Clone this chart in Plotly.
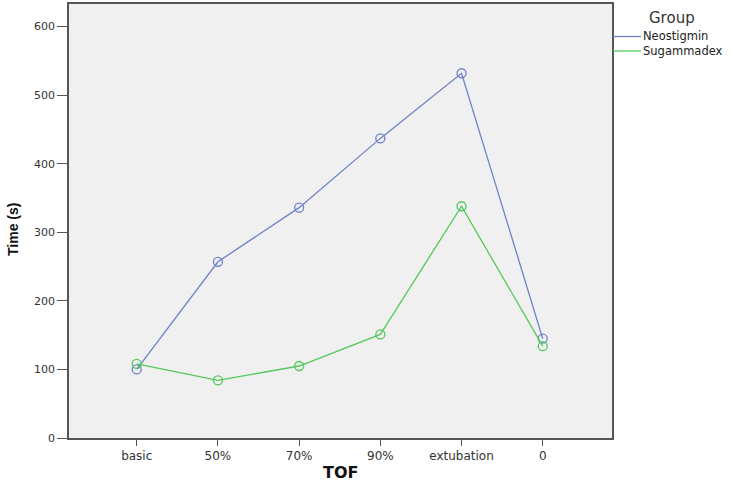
import plotly.graph_objects as go

categories = ["basic", "50%", "70%", "90%", "extubation", "0"]
neostigmin = [100, 257, 336, 437, 532, 145]
sugammadex = [108, 84, 105, 151, 338, 134]
y_ticks = [0, 100, 200, 300, 400, 500, 600]
series_names = ["Neostigmin", "Sugammadex"]
series_colors = ["#6e80c8", "#52c95a"]

x_idx = list(range(len(categories)))
FONT = "DejaVu Sans, Verdana, sans-serif"

# plot-area geometry (pixels)
W, H = 733, 486
L, R, T, B = 69, 121, 4, 48
pw, ph = W - L - R, H - T - B


def px(x):
    return (x - L) / pw


def py(y):
    return (H - B - y) / ph


fig = go.Figure()
for name, vals, col in zip(series_names, [neostigmin, sugammadex], series_colors):
    fig.add_trace(go.Scatter(
        x=x_idx, y=vals, name=name, mode="lines+markers",
        line=dict(color=col, width=1.3),
        marker=dict(symbol="circle-open", size=9, color=col, line=dict(width=1.3)),
        showlegend=False,
    ))

shapes = []
annotations = []
# manual legend
leg_y = [36.5, 51]
for name, col, yy in zip(series_names, series_colors, leg_y):
    shapes.append(dict(type="line", xref="paper", yref="paper",
                       x0=px(613), x1=px(641), y0=py(yy), y1=py(yy),
                       line=dict(color=col, width=1.3)))
    annotations.append(dict(text=name, xref="paper", yref="paper",
                            x=px(642), y=py(yy), xanchor="left", yanchor="middle",
                            showarrow=False, borderpad=0,
                            font=dict(family=FONT, size=11.5, color="#222")))
annotations.append(dict(text="Group", xref="paper", yref="paper",
                        x=px(672), y=py(18), xanchor="center", yanchor="middle",
                        showarrow=False, borderpad=0,
                        font=dict(family=FONT, size=15, color="#333")))
# axis titles
annotations.append(dict(text="<b>Time (s)</b>", xref="paper", yref="paper",
                        x=px(13), y=py(230), xanchor="center", yanchor="middle",
                        textangle=-90, showarrow=False,
                        font=dict(family="Liberation Sans, Arial, sans-serif", size=14, color="#111")))
annotations.append(dict(text="<b>TOF</b>", xref="paper", yref="paper",
                        x=px(340), y=py(473), xanchor="center", yanchor="middle",
                        showarrow=False,
                        font=dict(family=FONT, size=16, color="#111")))

fig.update_layout(
    width=W, height=H,
    margin=dict(l=L, r=R, t=T, b=B, autoexpand=False),
    paper_bgcolor="white",
    plot_bgcolor="#f0f0f0",
    font=dict(family=FONT, size=11, color="#333"),
    showlegend=False,
    shapes=shapes,
    annotations=annotations,
    xaxis=dict(
        tickmode="array", tickvals=x_idx, ticktext=categories,
        range=[-0.834, 5.853],
        showgrid=False, zeroline=False,
        showline=True, linecolor="#555", linewidth=1.5, mirror=True,
        ticks="outside", ticklen=6, tickcolor="#555",
        tickfont=dict(family=FONT, size=12, color="#333"),
    ),
    yaxis=dict(
        tickmode="array", tickvals=y_ticks,
        range=[0, 633],
        showgrid=False, zeroline=False,
        showline=True, linecolor="#555", linewidth=1.5, mirror=True,
        ticks="outside", ticklen=10, tickcolor="#555",
        tickfont=dict(family=FONT, size=11, color="#333"),
    ),
)

fig.write_html("out.html", config={"displayModeBar": False},
               post_script="document.body.style.margin='0px';")
